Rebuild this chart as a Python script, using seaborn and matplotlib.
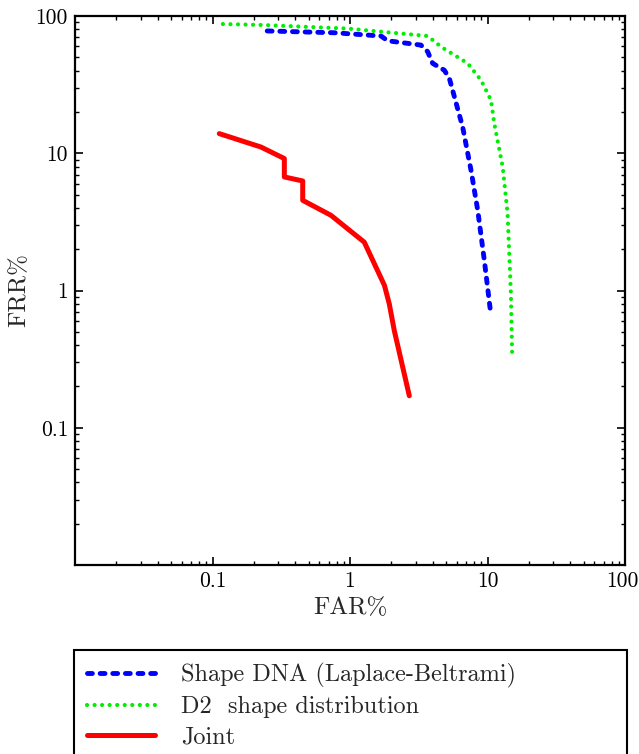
import matplotlib
matplotlib.use("Agg")
import matplotlib.pyplot as plt
import matplotlib.transforms as mtransforms
import numpy as np
import pandas as pd
import seaborn as sns

# ---------------------------------------------------------
# Data (FAR% / FRR% on log axes)
# ---------------------------------------------------------
shape_dna_far = [0.25, 0.77, 1.68, 1.88, 3.28, 3.67, 3.99, 4.85, 5.28, 6.6, 7.59, 8.49, 9.48, 10.6]
shape_dna_frr = [77.8, 75.5, 71.5, 66.0, 61.4, 55.0, 45.2, 40.3, 35.1, 15.5, 7.5, 3.84, 1.66, 0.657]

d2_far = [0.119, 0.232, 0.96, 3.67, 4.59, 7.18, 8.97, 10.6, 11.2, 12.9, 14.0, 14.8, 15.1]
d2_frr = [87.4, 86.0, 81.0, 71.5, 59.7, 45.2, 34.1, 24.4, 16.5, 7.94, 3.63, 0.946, 0.345]

joint_far = [0.112, 0.225, 0.333, 0.333, 0.453, 0.453, 0.727, 1.27, 1.78, 1.93, 2.10, 2.70]
joint_frr = [13.9, 11.1, 9.15, 6.72, 6.28, 4.54, 3.53, 2.25, 1.09, 0.80, 0.51, 0.171]

labels = ["Shape DNA (Laplace-Beltrami)", "D2  shape distribution", "Joint"]
colors = ["#0000ff", "#00ee00", "#ff0000"]
tick_values = [0.1, 1, 10, 100]
tick_labels = ["0.1", "1", "10", "100"]

# ---------------------------------------------------------
# Style
# ---------------------------------------------------------
sns.set_style("ticks")
plt.rcParams["font.family"] = ["cmr10", "DejaVu Serif"]
plt.rcParams["mathtext.fontset"] = "cm"
plt.rcParams["axes.formatter.use_mathtext"] = True
plt.rcParams["axes.unicode_minus"] = False

fig = plt.figure(figsize=(6.39, 7.54), dpi=100)
ax = fig.add_axes([75 / 639, 1 - 565 / 754, 550 / 639, 549 / 754])

series = [
    (shape_dna_far, shape_dna_frr, dict(lw=3.5, linestyle=(0, (1.0, 1.6)),
                                        dash_capstyle="round")),
    (d2_far, d2_frr, dict(lw=3.0, linestyle=(0, (0.01, 1.8)),
                          dash_capstyle="round")),
    (joint_far, joint_frr, dict(lw=3.6, linestyle="-", solid_capstyle="round")),
]

for (far, frr, kw), lab, col in zip(series, labels, colors):
    df = pd.DataFrame({"FAR": far, "FRR": frr})
    sns.lineplot(data=df, x="FAR", y="FRR", ax=ax, sort=False, estimator=None,
                 color=col, label=lab, **kw)

ax.set_xscale("log")
ax.set_yscale("log")
ax.set_xlim(0.01, 100)
ax.set_ylim(0.01, 100)
ax.set_xticks(tick_values)
ax.set_xticklabels(tick_labels)
ax.set_yticks(tick_values)
ax.set_yticklabels(tick_labels)
ax.tick_params(which="both", direction="in", top=True, right=True,
               labelsize=15.5, colors="black")
ax.tick_params(which="major", length=6, width=1.2, pad=5)
ax.tick_params(which="minor", length=3, width=1.0)
for sp in ax.spines.values():
    sp.set_linewidth(1.6)
    sp.set_color("black")

# nudge the last x label ("100") slightly left so it stays inside the figure
last = ax.get_xticklabels()[-1]
last.set_transform(last.get_transform() +
                   mtransforms.ScaledTranslation(-3 / 100, 0, fig.dpi_scale_trans))

ax.set_xlabel("FAR%", fontsize=18, labelpad=4)
ax.set_ylabel("FRR%", fontsize=18, labelpad=4)

handles, labs = ax.get_legend_handles_labels()
ax.get_legend().remove()
leg = fig.legend(handles, labs, loc="upper left",
                 bbox_to_anchor=(74 / 639, 1 - 650 / 754 - 0.01, 553 / 639, 0.01),
                 mode="expand", fontsize=17.5, handlelength=2.8,
                 handletextpad=1.07, labelspacing=0.32, borderpad=0.55,
                 fancybox=False, frameon=True, framealpha=1, borderaxespad=0)
leg.get_frame().set_edgecolor("black")
leg.get_frame().set_linewidth(1.5)

fig.savefig("out.png", dpi=100)
